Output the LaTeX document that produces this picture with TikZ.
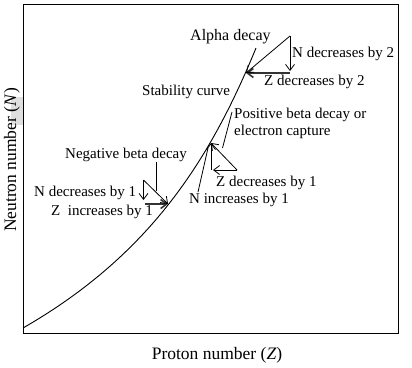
\documentclass[tikz,border=0pt]{standalone}
\usepackage{fontspec}
\setmainfont{Liberation Serif}
\usetikzlibrary{arrows.meta}
\begin{document}
\begin{tikzpicture}[x=1pt,y=-1pt,
  lbl/.style={font=\fontsize{15}{17}\selectfont, inner sep=0pt, anchor=west},
  ax/.style={font=\fontsize{17.5}{20}\selectfont, inner sep=0pt},
  arr/.style={line width=0.8pt, -{Straight Barb[length=6pt,width=9pt]}},
  ptr/.style={line width=0.8pt},
  harr/.style={line width=1.6pt, black!80, -{Straight Barb[length=6pt,width=9pt]}}
]
\useasboundingbox (0,0) rectangle (412,367);
% artifact
\fill[gray!25] (11,97) rectangle (23,125);
% frame
\draw[line width=1pt] (23,4) rectangle (398,333);
% stability curve
\coordinate (cStart) at (23,328);
\coordinate (cEnd) at (256,48);
\draw[line width=0.9pt] (cStart) .. controls (150,255) and (210,160) .. (cEnd);
% axis labels
\node[ax, rotate=90] (ylab) at (12,160) {Neutron number (\textit{N})};
\node[ax] (xlab) at (217,355) {Proton number (\textit{Z})};
% labels
\node[lbl, font=\fontsize{16}{18}\selectfont] (alpha) at (190,37) {Alpha decay};
\node[lbl] (nd2) at (292,54) {N decreases by 2};
\node[lbl] (zd2) at (264,82) {Z decreases by 2};
\node[lbl] (stab) at (142,92) {Stability curve};
\node[lbl] (pos1) at (234,115) {Positive beta decay or};
\node[lbl] (pos2) at (234,132) {electron capture};
\node[lbl] (neg) at (65,155) {Negative beta decay};
\node[lbl] (nd1) at (34,193) {N decreases by 1};
\node[lbl] (zi1) at (51,212) {Z\ \ increases by 1};
\node[lbl] (zd1) at (216,183) {Z decreases by 1};
\node[lbl] (ni1) at (189,200) {N increases by 1};
% alpha decay triangle
\coordinate (aTop) at (290,36);
\coordinate (aVend) at (290,71);
\coordinate (aCorner) at (290,73);
\coordinate (aTip) at (246,73);
\draw[arr] (aTop) -- (aVend);
\draw[harr] (aCorner) -- (aTip);
\draw[arr] (aTop) -- (aTip);
% negative beta decay triangle
\coordinate (nTop) at (143.5,180);
\coordinate (nVend) at (143.5,200);
\coordinate (nCorner) at (145,204);
\coordinate (nTip) at (168,204);
\coordinate (nPtrA) at (156.5,162);
\coordinate (nPtrB) at (156.5,191);
\draw[arr] (nTop) -- (nVend);
\draw[harr] (nCorner) -- (nTip);
\draw[arr] (nTop) -- (nTip);
\draw[ptr] (nPtrA) -- (nPtrB);
% positive beta decay triangle
\coordinate (pStart) at (237,170);
\coordinate (pCorner) at (211,170);
\coordinate (pHend) at (213,170);
\coordinate (pTip) at (211,143);
\coordinate (pPtrA) at (232,112);
\coordinate (pPtrB) at (222.5,148);
\coordinate (qPtrA) at (198,192);
\coordinate (qPtrB) at (208,148);
\draw[arr] (pStart) -- (pHend);
\draw[arr] (pCorner) -- (pTip);
\draw[arr] (pStart) -- (pTip);
\draw[ptr] (pPtrA) -- (pPtrB);
\draw[ptr] (qPtrA) -- (qPtrB);
\end{tikzpicture}
\end{document}
